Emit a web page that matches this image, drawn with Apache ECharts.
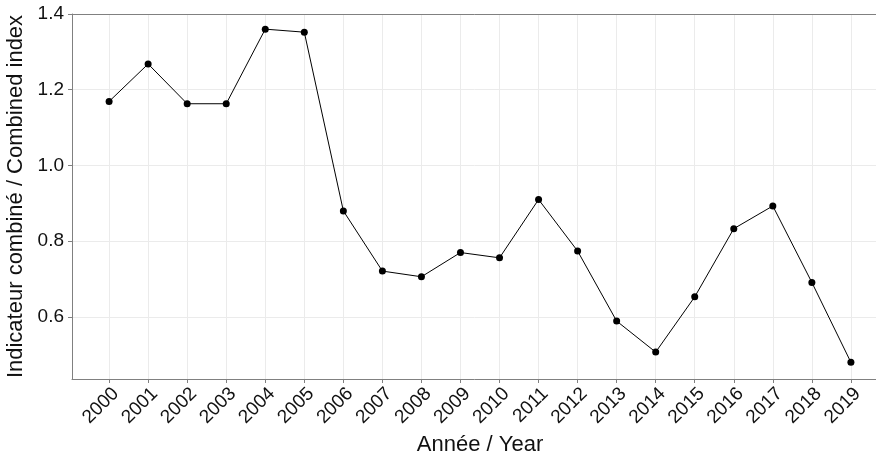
<!DOCTYPE html>
<html>
<head>
<meta charset="utf-8">
<script src="https://cdn.jsdelivr.net/npm/echarts@6/dist/echarts.min.js"></script>
<style>
  html, body { margin: 0; padding: 0; background: #fff; }
  #chart { width: 876px; height: 451px; }
</style>
</head>
<body>
<div id="chart"></div>
<script>
// Combined index by year
const years = [2000, 2001, 2002, 2003, 2004, 2005, 2006, 2007, 2008, 2009,
               2010, 2011, 2012, 2013, 2014, 2015, 2016, 2017, 2018, 2019];
const indexValues = [1.169, 1.268, 1.163, 1.163, 1.360, 1.352, 0.880, 0.721, 0.706, 0.770,
                     0.756, 0.910, 0.774, 0.589, 0.507, 0.653, 0.833, 0.893, 0.691, 0.480];
const yTicks = [0.6, 0.8, 1.0, 1.2, 1.4];

const xLabel = 'Année / Year';
const yLabel = 'Indicateur combiné / Combined index';

const font = 'Liberation Sans, Arial, sans-serif';
const axisGrey = '#808080';
const gridGrey = '#ebebeb';
const textColor = '#111';

const chart = echarts.init(document.getElementById('chart'), null, { renderer: 'canvas' });

chart.setOption({
  animation: false,
  backgroundColor: '#ffffff',
  grid: {
    left: 72, right: -12, top: 14, bottom: 72,
    show: false, containLabel: false, outerBoundsMode: 'none'
  },
  xAxis: [{
    type: 'value',
    min: 1999.05,
    max: 2019.95,
    name: xLabel,
    nameLocation: 'middle',
    nameGap: 41,
    nameTextStyle: { fontFamily: font, fontSize: 22, color: textColor },
    axisLine: { show: true, lineStyle: { color: axisGrey, width: 1 } },
    axisTick: { show: true, length: 4, customValues: years, lineStyle: { color: axisGrey } },
    axisLabel: {
      customValues: years,
      rotate: 45,
      margin: 5,
      verticalAlign: 'top',
      fontFamily: font,
      fontSize: 19,
      color: textColor,
      formatter: v => String(Math.round(v))
    },
    splitLine: { show: true, lineStyle: { color: gridGrey, width: 1 } }
  }, {
    // top frame line
    type: 'value',
    position: 'top',
    min: 1999.05,
    max: 2019.95,
    axisLine: { show: true, onZero: false, lineStyle: { color: axisGrey, width: 1 } },
    axisTick: { show: false },
    axisLabel: { show: false },
    splitLine: { show: false }
  }],
  yAxis: {
    type: 'value',
    min: 0.436,
    max: 1.4,
    name: yLabel,
    nameLocation: 'middle',
    nameGap: 40,
    nameTextStyle: { fontFamily: font, fontSize: 22, color: textColor },
    axisLine: { show: true, lineStyle: { color: axisGrey, width: 1 } },
    axisTick: { show: true, length: 4, customValues: yTicks, lineStyle: { color: axisGrey } },
    axisLabel: {
      customValues: yTicks,
      margin: 8,
      fontFamily: font,
      fontSize: 19,
      color: textColor,
      formatter: v => v.toFixed(1)
    },
    splitLine: { show: true, lineStyle: { color: gridGrey, width: 1 } }
  },
  series: [{
    type: 'line',
    xAxisIndex: 0,
    data: years.map((y, i) => [y, indexValues[i]]),
    symbol: 'circle',
    symbolSize: 7,
    showSymbol: true,
    lineStyle: { color: '#000', width: 1 },
    itemStyle: { color: '#000' },
    emphasis: { disabled: true },
    z: 5
  }]
});
</script>
</body>
</html>
